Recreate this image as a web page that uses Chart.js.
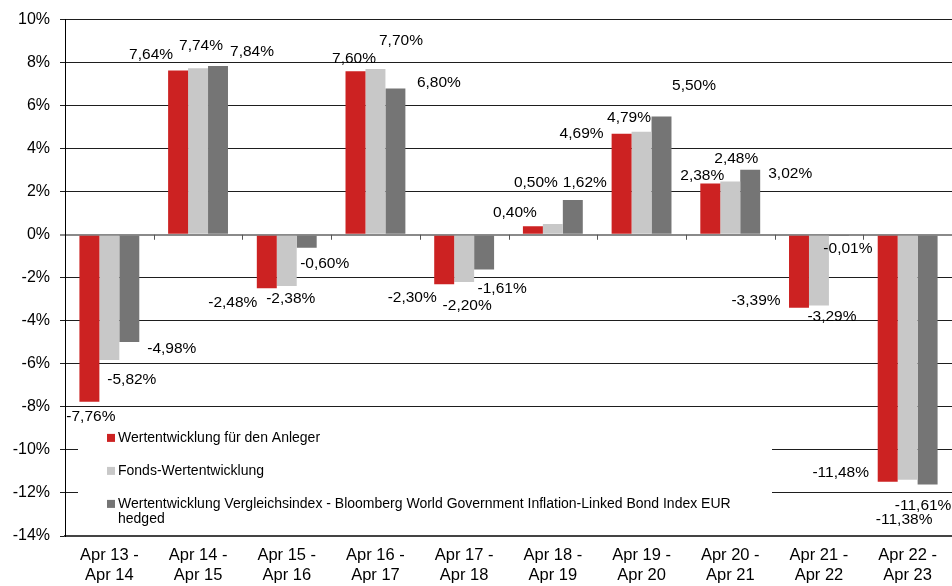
<!DOCTYPE html>
<html>
<head>
<meta charset="utf-8">
<script src="https://cdn.jsdelivr.net/npm/chart.js@4.4.1/dist/chart.umd.min.js"></script>
<style>
  html, body { margin: 0; padding: 0; background: #fff; }
  #wrap { width: 952px; height: 586px; }
</style>
</head>
<body>
<div id="wrap"><canvas id="perfChart"></canvas></div>
<script>
const periods = [
    ['Apr 13 -', 'Apr 14'], ['Apr 14 -', 'Apr 15'], ['Apr 15 -', 'Apr 16'],
    ['Apr 16 -', 'Apr 17'], ['Apr 17 -', 'Apr 18'], ['Apr 18 -', 'Apr 19'],
    ['Apr 19 -', 'Apr 20'], ['Apr 20 -', 'Apr 21'], ['Apr 21 -', 'Apr 22'],
    ['Apr 22 -', 'Apr 23']
];
const investorReturn  = [-7.76, 7.64, -2.48, 7.60, -2.30, 0.40, 4.69, 2.38, -3.39, -11.48];
const fundReturn      = [-5.82, 7.74, -2.38, 7.70, -2.20, 0.50, 4.79, 2.48, -3.29, -11.38];
const benchmarkReturn = [-4.98, 7.84, -0.60, 6.80, -1.61, 1.62, 5.50, 3.02, -0.01, -11.61];
const seriesNames = [
    'Wertentwicklung für den Anleger',
    'Fonds-Wertentwicklung',
    'Wertentwicklung Vergleichsindex - Bloomberg World Government Inflation-Linked Bond Index EUR hedged'
];
const yMin = -14, yMax = 10, yStep = 2;

const COLORS = ['#cc2222', '#c8c8c8', '#757575'];
const FONT = '"Liberation Sans", Arial, sans-serif';

// label offsets (px) from the bar end, as placed in the original
const labelNudge = [
    [[1.5, 14.5], [-27, -16], [-34, 14.5], [-1.5, -13], [-32, 13.5], [-18, -13], [-40, 0], [-8, -8], [-43, -7], [-47, -9]],
    [[22.5, 19.5], [3, -23], [4, 12.5], [25.5, -28], [3, 23.5], [-17, -41], [-12.5, -14], [6, -22.5], [13, 11], [-3.5, 40]],
    [[42.5, 6.5], [34, -14], [18, 16], [43.5, -5.5], [18, 19], [12, -17], [32.5, -30.5], [40, 4], [9, 14], [-4.5, 21]]
];

function fmt(v) {
    return v.toFixed(2).replace('.', ',') + '%';
}

function wrapText(ctx, text, maxWidth) {
    const words = text.split(' ');
    const lines = [];
    let line = '';
    words.forEach(w => {
        const test = line ? line + ' ' + w : w;
        if (ctx.measureText(test).width > maxWidth && line) {
            lines.push(line);
            line = w;
        } else {
            line = test;
        }
    });
    if (line) lines.push(line);
    return lines;
}

const overlay = {
    id: 'overlay',
    beforeDatasetsDraw(chart) {
        const { ctx, chartArea, scales: { x, y } } = chart;
        ctx.save();

        // small ticks on the zero line between categories
        const y0 = y.getPixelForValue(0);
        ctx.strokeStyle = '#555';
        ctx.lineWidth = 1;
        for (let i = 0; i < periods.length; i++) {
            const bx = Math.round((x.getPixelForValue(i) + x.getPixelForValue(i + 1)) / 2) + 0.5;
            ctx.beginPath();
            ctx.moveTo(bx, y0);
            ctx.lineTo(bx, y0 + 5);
            ctx.stroke();
        }

        // legend box inside the plot
        const top = y.getPixelForValue(-8) + 2;
        const bottom = chartArea.bottom - 1;
        const left = chartArea.left + 13;
        const right = chartArea.left + 707;
        ctx.fillStyle = '#fff';
        ctx.fillRect(left, top, right - left, bottom - top);

        ctx.font = '14px ' + FONT;
        ctx.textBaseline = 'middle';
        ctx.textAlign = 'left';
        const boxX = chartArea.left + 42;
        const textX = boxX + 11;
        let rowY = top + 29;
        seriesNames.forEach((name, i) => {
            ctx.fillStyle = COLORS[i];
            ctx.fillRect(boxX, rowY - 4, 8, 8);
            ctx.fillStyle = '#000';
            const lines = wrapText(ctx, name, 650);
            lines.forEach((ln, k) => ctx.fillText(ln, textX, rowY + k * 15));
            rowY += 33;
        });
        ctx.restore();
    },
    afterDatasetsDraw(chart) {
        const { ctx } = chart;
        ctx.save();
        ctx.font = '15.5px ' + FONT;
        ctx.fillStyle = '#000';
        ctx.textAlign = 'center';
        ctx.textBaseline = 'middle';
        chart.data.datasets.forEach((ds, si) => {
            const meta = chart.getDatasetMeta(si);
            meta.data.forEach((bar, i) => {
                const [dx, dy] = labelNudge[si][i];
                ctx.fillText(fmt(ds.data[i]), bar.x + dx, bar.y + dy);
            });
        });
        ctx.restore();
    }
};

const ctx = document.getElementById('perfChart').getContext('2d');
new Chart(ctx, {
    type: 'bar',
    data: {
        labels: periods,
        datasets: [investorReturn, fundReturn, benchmarkReturn].map((vals, i) => ({
            label: seriesNames[i],
            data: vals,
            backgroundColor: COLORS[i],
            borderWidth: 0,
            categoryPercentage: 0.675,
            barPercentage: 1.0
        }))
    },
    options: {
        responsive: true,
        maintainAspectRatio: false,
        animation: false,
        layout: { padding: { top: 19, left: 0, right: 0, bottom: 0 } },
        scales: {
            x: {
                grid: { display: false, drawTicks: false },
                border: { display: true, color: '#444', width: 2 },
                ticks: {
                    color: '#000',
                    padding: 10,
                    maxRotation: 0,
                    autoSkip: false,
                    font: { family: FONT, size: 16.5 }
                },
                afterFit(scale) { scale.height = 50; }
            },
            y: {
                min: yMin,
                max: yMax,
                ticks: {
                    stepSize: yStep,
                    color: '#000',
                    padding: 10,
                    font: { family: FONT, size: 16 },
                    callback: v => v + '%'
                },
                grid: {
                    tickLength: 5,
                    color: c => c.tick && c.tick.value === 0 ? '#8a8a8a' : '#1e1e1e',
                    lineWidth: c => c.tick && c.tick.value === 0 ? 2 : 1
                },
                border: { display: true, color: '#000', width: 1 },
                afterFit(scale) { scale.width = 65; }
            }
        },
        plugins: {
            legend: { display: false },
            tooltip: { enabled: false }
        }
    },
    plugins: [overlay]
});
</script>
</body>
</html>
